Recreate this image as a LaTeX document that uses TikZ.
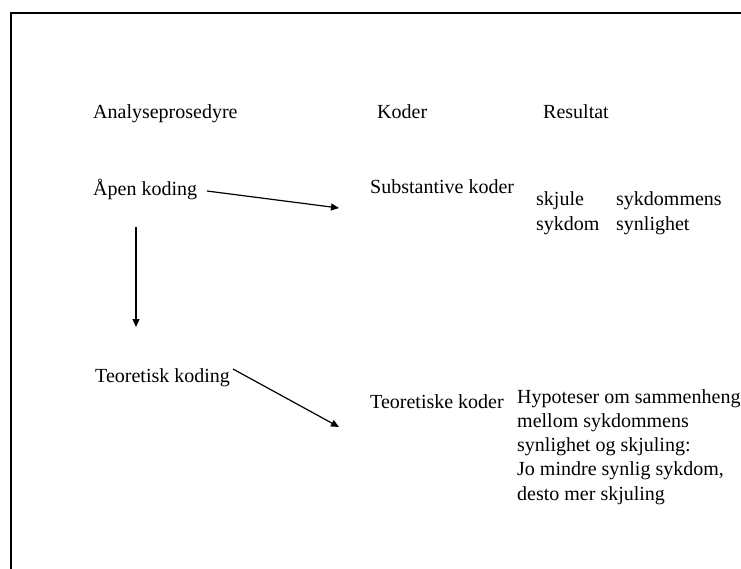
\documentclass[tikz,border=0pt]{standalone}
\usepackage{fontspec}
\setmainfont{Liberation Serif}
\usetikzlibrary{arrows.meta}
\begin{document}
\begin{tikzpicture}[x=1pt,y=-1pt,
  txt/.style={anchor=base west, inner sep=0pt, font=\fontsize{20}{24}\selectfont},
  arr/.style={line width=1.2pt, -{Triangle[length=8pt,width=7pt]}},
  frame/.style={line width=2.2pt}]
\useasboundingbox (0,0) rectangle (741,568);
\fill[white] (0,0) rectangle (741,568);
\draw[frame] (11,600) -- (11,13) -- (760,13);
% headers
\node[txt] (h1) at (93,118) {Analyseprosedyre};
\node[txt] (h2) at (377,118) {Koder};
\node[txt] (h3) at (543,118) {Resultat};
% rows
\node[txt] (apen) at (93,195) {Åpen koding};
\node[txt] (subst) at (370,193) {Substantive koder};
\node[txt] (r1a) at (536,205) {skjule};
\node[txt] (r1b) at (536,230) {sykdom};
\node[txt] (r2a) at (616,205) {sykdommens};
\node[txt] (r2b) at (616,230) {synlighet};
\node[txt] (teo) at (95,382) {Teoretisk koding};
\node[txt] (teok) at (370,408) {Teoretiske koder};
\node[txt] (hy1) at (517,403) {Hypoteser om sammenheng};
\node[txt] (hy2) at (517,427) {mellom sykdommens};
\node[txt] (hy3) at (517,451) {synlighet og skjuling:};
\node[txt] (hy4) at (517,475) {Jo mindre synlig sykdom,};
\node[txt] (hy5) at (517,500) {desto mer skjuling};
% connector ends
\coordinate (a1s) at (207,191);
\coordinate (a1e) at (339,208);
\coordinate (a2s) at (136,227);
\coordinate (a2e) at (136,327);
\coordinate (a3s) at (233,369);
\coordinate (a3e) at (339,427);
\draw[arr] (a1s) -- (a1e);
\draw[arr] (a2s) -- (a2e);
\draw[arr] (a3s) -- (a3e);
\end{tikzpicture}
\end{document}
